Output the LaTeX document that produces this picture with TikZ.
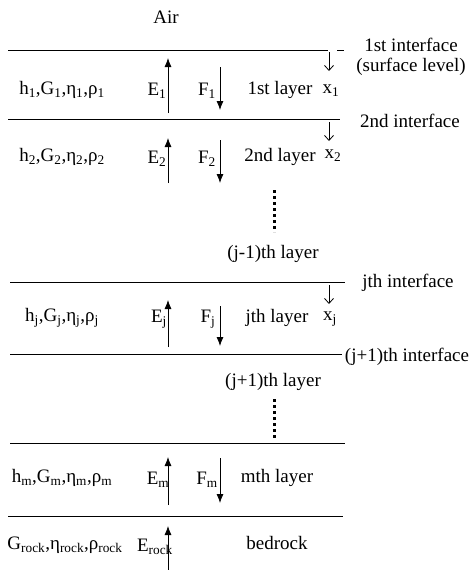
\documentclass[tikz,border=0pt]{standalone}
\usepackage{fontspec}
\setmainfont{Liberation Serif}
\usetikzlibrary{arrows.meta}
\newcommand{\sbs}[1]{\textsubscript{#1}}
\begin{document}
\begin{tikzpicture}[x=1pt,y=-1pt,
  lyr/.style={line width=0.9pt},
  txt/.style={font=\fontsize{19}{17}\selectfont, inner sep=0pt},
  up/.style={-{Latex[length=9pt,width=7pt]}, line width=0.8pt},
  xarr/.style={-{Straight Barb[length=5pt,width=9pt]}, line width=0.8pt},
  dotcol/.style={line width=3pt, dash pattern=on 2.5pt off 3.5pt}]
\useasboundingbox (0,0) rectangle (471,570);
% interface lines
\coordinate (a1) at (8,50);   \coordinate (b1) at (328,50);
\coordinate (c1) at (337,50); \coordinate (d1) at (344,50);
\coordinate (a2) at (8,119);  \coordinate (b2) at (340,119);
\coordinate (aj) at (10,282); \coordinate (bj) at (345,282);
\coordinate (ak) at (10,354); \coordinate (bk) at (342,354);
\coordinate (am) at (10,443); \coordinate (bm) at (345,443);
\coordinate (ar) at (8,516);  \coordinate (br) at (343,516);
\draw[lyr] (a1) -- (b1);
\draw[lyr] (c1) -- (d1);
\draw[lyr] (a2) -- (b2);
\draw[lyr] (aj) -- (bj);
\draw[lyr] (ak) -- (bk);
\draw[lyr] (am) -- (bm);
\draw[lyr] (ar) -- (br);
% texts
\node[txt] (air) at (166,17) {Air};
\node[txt] (if1) at (411,45) {1st interface};
\node[txt] (if1b) at (411,67) {(surface level)};
\node[txt] (if2) at (410,121) {2nd interface};
\node[txt] (ifj) at (408,283) {jth interface};
\node[txt] (ifk) at (407,357) {(j+1)th interface};
% layer 1
\node[txt] (p1) at (62,90) {h\sbs{1},G\sbs{1},η\sbs{1},ρ\sbs{1}};
\node[txt] (E1) at (157,91) {E\sbs{1}};
\node[txt] (F1) at (207,91) {F\sbs{1}};
\node[txt] (l1) at (280,90) {1st layer};
\node[txt] (x1) at (331,91) {x\sbs{1}};
\coordinate (e1b) at (168,113); \coordinate (e1t) at (168,58);
\coordinate (f1t) at (220,67);  \coordinate (f1b) at (220,110);
\coordinate (s1t) at (329,52);  \coordinate (s1b) at (329,71);
\draw[up] (e1b) -- (e1t);
\draw[up] (f1t) -- (f1b);
\draw[xarr] (s1t) -- (s1b);
% layer 2
\node[txt] (p2) at (62,157) {h\sbs{2},G\sbs{2},η\sbs{2},ρ\sbs{2}};
\node[txt] (E2) at (157,159) {E\sbs{2}};
\node[txt] (F2) at (207,159) {F\sbs{2}};
\node[txt] (l2) at (280,157) {2nd layer};
\node[txt] (x2) at (333,156) {x\sbs{2}};
\coordinate (e2b) at (168,183); \coordinate (e2t) at (168,138);
\coordinate (f2t) at (220,140); \coordinate (f2b) at (220,183);
\coordinate (s2t) at (329,122); \coordinate (s2b) at (329,141);
\draw[up] (e2b) -- (e2t);
\draw[up] (f2t) -- (f2b);
\draw[xarr] (s2t) -- (s2b);
% dots 1
\coordinate (d1t) at (274,190); \coordinate (d1b) at (274,232);
\draw[dotcol] (d1t) -- (d1b);
\node[txt] (ljm) at (273,254) {(j-1)th layer};
% layer j
\node[txt] (pj) at (62,318) {h\sbs{j},G\sbs{j},η\sbs{j},ρ\sbs{j}};
\node[txt] (Ej) at (159,319) {E\sbs{j}};
\node[txt] (Fj) at (208,319) {F\sbs{j}};
\node[txt] (lj) at (277,318) {jth layer};
\node[txt] (xj) at (330,319) {x\sbs{j}};
\coordinate (ejb) at (168,347); \coordinate (ejt) at (168,300);
\coordinate (fjt) at (220,306); \coordinate (fjb) at (220,346);
\coordinate (sjt) at (329,285); \coordinate (sjb) at (329,304);
\draw[up] (ejb) -- (ejt);
\draw[up] (fjt) -- (fjb);
\draw[xarr] (sjt) -- (sjb);
% (j+1)th layer + dots
\node[txt] (ljp) at (273,382) {(j+1)th layer};
\coordinate (d2t) at (274,399); \coordinate (d2b) at (274,438);
\draw[dotcol] (d2t) -- (d2b);
% layer m
\node[txt] (pm) at (62,478) {h\sbs{m},G\sbs{m},η\sbs{m},ρ\sbs{m}};
\node[txt] (Em) at (158,480) {E\sbs{m}};
\node[txt] (Fm) at (207,480) {F\sbs{m}};
\node[txt] (lm) at (277,478) {mth layer};
\coordinate (emb) at (168,505); \coordinate (emt) at (168,457);
\coordinate (fmt) at (220,458); \coordinate (fmb) at (220,503);
\draw[up] (emb) -- (emt);
\draw[up] (fmt) -- (fmb);
% bedrock
\node[txt] (pr) at (65,545) {G\sbs{rock},η\sbs{rock},ρ\sbs{rock}};
\node[txt] (Er) at (155,547) {E\sbs{rock}};
\node[txt] (lr) at (277,543) {bedrock};
\coordinate (erb) at (168,570); \coordinate (ert) at (168,526);
\draw[up] (erb) -- (ert);
\end{tikzpicture}
\end{document}
